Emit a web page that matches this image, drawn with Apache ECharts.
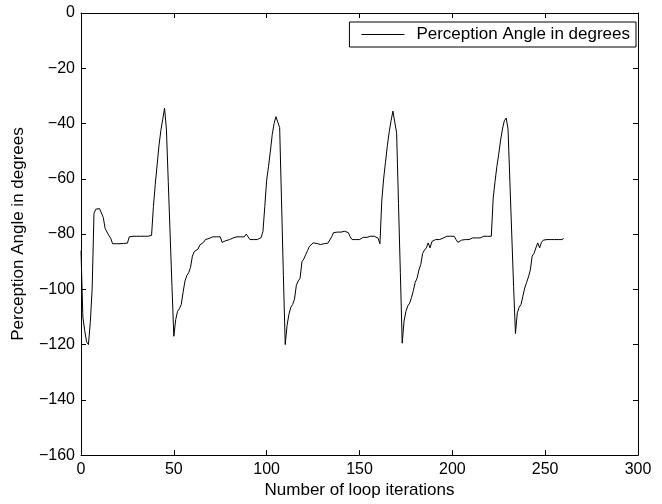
<!DOCTYPE html>
<html>
<head>
<meta charset="utf-8">
<script src="https://cdn.jsdelivr.net/npm/echarts@6/dist/echarts.min.js"></script>
<style>
html,body{margin:0;padding:0;background:#fff;}
#chart{width:662px;height:504px;}
</style>
</head>
<body>
<div id="chart"></div>
<script>
// Perception angle (degrees) per loop iteration, iteration 0..260
const angleValues = [
  -86, -110, -115, -119, -120, -112, -100, -72.5, -71, -70.5,
  -70.8, -71.5, -74, -78, -78.5, -80.5, -81.5, -83.5, -83.5, -83.5,
  -83.5, -83.5, -83.5, -83.4, -83.3, -83.3, -81, -80.8, -80.8, -80.8,
  -80.8, -80.8, -80.8, -80.8, -80.8, -80.8, -80.8, -80.8, -80.5, -70,
  -62, -55, -48, -42.6, -38.5, -34.5, -42, -61, -80, -99,
  -117, -111, -108, -107, -105.5, -101, -97, -95, -94, -92,
  -88, -86.3, -86, -85.5, -84, -84.5, -83, -82, -81.8, -81.6,
  -81.5, -81, -81, -81, -81, -81, -83, -82.8, -82.4, -82.2,
  -82, -81.8, -81.4, -81.2, -81, -81, -81, -81, -81, -80,
  -81, -82, -82, -82, -82, -82, -81.8, -81.3, -79, -70,
  -60.5, -55.5, -50, -44, -40, -37.5, -39.5, -41.5, -68, -95,
  -120, -113, -109, -106.5, -105.5, -103.5, -98.5, -97, -96, -90,
  -89, -87.5, -86, -84.5, -83.8, -83.2, -83.2, -83.4, -83.4, -83.8,
  -83.8, -83.5, -83.5, -83.3, -83.3, -81, -79.5, -79.3, -79.3, -79.3,
  -79.3, -79.2, -79, -78.7, -79.5, -81, -82, -82, -82, -82,
  -82, -81.3, -81.2, -81.2, -81.2, -81.2, -80.8, -80.8, -80.8, -80.8,
  -81.5, -83.5, -68, -60, -54, -48, -43, -39, -35.5, -39.5,
  -43.5, -69, -94, -119.5, -111.5, -108, -106, -105, -103, -100.5,
  -97.5, -96, -93, -91, -87, -85.8, -85, -83.2, -85, -82.7,
  -82, -82, -82, -82, -82, -81.5, -80.8, -80.8, -80.8, -80.8,
  -80.8, -80.8, -82, -83, -82.8, -82.2, -82, -82, -82, -82,
  -81.4, -81.4, -81.4, -81.4, -81.4, -81.4, -81.4, -80.8, -80.8, -80.8,
  -80.8, -80.8, -67, -61, -55.5, -51, -46, -42, -39, -38,
  -42, -61, -80, -99, -116, -108.5, -106.5, -105.5, -102.5, -99.5,
  -97.5, -95.5, -93, -88, -87, -85, -83.2, -85, -83, -82.2,
  -82, -82, -82, -82, -82, -82, -82, -82, -82, -82,
  -81.6
];
const seriesName = 'Perception Angle in degrees';
const xTitle = 'Number of loop iterations';
const yTitle = 'Perception Angle in degrees';
const xTicks = [0, 50, 100, 150, 200, 250, 300];
const yTicks = [-160, -140, -120, -100, -80, -60, -40, -20, 0];

const seriesData = angleValues.map((v, i) => [i, v]);
const FONT = 'Liberation Sans';
const minus = v => String(v).replace('-', '\u2212');

const chart = echarts.init(document.getElementById('chart'), null, {renderer: 'canvas'});
const axisCommon = {
  axisLine: {show: true, onZero: false, lineStyle: {color: '#000', width: 1}},
  axisTick: {show: true, inside: true, length: 5, lineStyle: {color: '#000', width: 1}},
  splitLine: {show: false}
};
chart.setOption({
  backgroundColor: '#fff',
  animation: false,
  grid: {left: 81, right: 24, top: 13, bottom: 45, containLabel: false},
  legend: {
    show: true,
    data: [seriesName],
    right: 26, top: 22,
    orient: 'vertical',
    backgroundColor: '#fff',
    borderColor: '#000', borderWidth: 1, borderRadius: 0,
    padding: [4, 6, 4, 12],
    icon: 'rect',
    itemWidth: 43, itemHeight: 1, itemGap: 0,
    itemStyle: {color: '#000'},
    textStyle: {fontFamily: FONT, fontSize: 17, color: '#000', padding: [0, 0, 0, 7]}
  },
  xAxis: [
    Object.assign({
      type: 'value', min: xTicks[0], max: xTicks[xTicks.length - 1], interval: 50,
      name: xTitle, nameLocation: 'middle', nameGap: 25,
      nameTextStyle: {fontFamily: FONT, fontSize: 17, color: '#000'},
      axisLabel: {fontFamily: FONT, fontSize: 16, color: '#000', margin: 6, formatter: minus}
    }, axisCommon),
    Object.assign({
      type: 'value', position: 'top', min: xTicks[0], max: xTicks[xTicks.length - 1], interval: 50,
      axisLabel: {show: false}
    }, axisCommon)
  ],
  yAxis: [
    Object.assign({
      type: 'value', min: yTicks[0], max: yTicks[yTicks.length - 1], interval: 20,
      name: yTitle, nameLocation: 'middle', nameGap: 54, nameRotate: 90,
      nameTextStyle: {fontFamily: FONT, fontSize: 17, color: '#000'},
      axisLabel: {fontFamily: FONT, fontSize: 16, color: '#000', margin: 6, formatter: minus}
    }, axisCommon),
    Object.assign({
      type: 'value', position: 'right', min: yTicks[0], max: yTicks[yTicks.length - 1], interval: 20,
      axisLabel: {show: false}
    }, axisCommon)
  ],
  series: [{
    name: seriesName,
    type: 'line',
    data: seriesData,
    xAxisIndex: 0, yAxisIndex: 0,
    showSymbol: false, symbol: 'none',
    lineStyle: {color: '#000', width: 1},
    itemStyle: {color: '#000'},
    smooth: false
  }]
});
</script>
</body>
</html>
